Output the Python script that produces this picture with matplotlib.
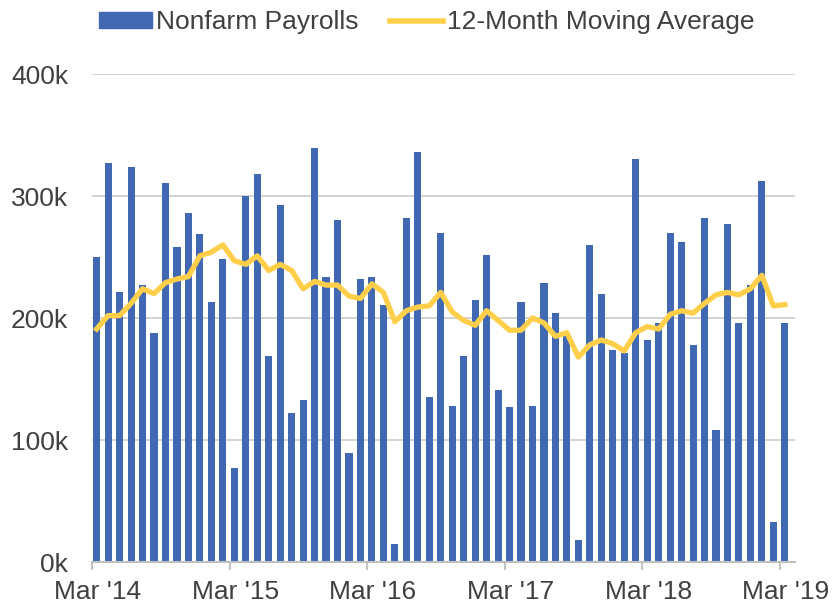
import matplotlib
matplotlib.use("Agg")
import matplotlib.pyplot as plt
from matplotlib.patches import Patch
from matplotlib.lines import Line2D
import numpy as np

plt.rcParams['font.family'] = ['Liberation Sans', 'DejaVu Sans']

# Monthly nonfarm payroll change, Mar 2014 - Mar 2019 (thousands)
payrolls = [250, 327, 221, 324, 227, 188, 311, 258, 286, 269, 213, 248,
            77, 300, 318, 169, 293, 122, 133, 339, 234, 280, 89, 232,
            234, 211, 15, 282, 336, 135, 270, 128, 169, 215, 252, 141,
            127, 213, 128, 229, 204, 187, 18, 260, 220, 174, 171, 330,
            182, 196, 270, 262, 178, 282, 108, 277, 196, 227, 312, 33,
            196]

moving_avg = [191, 202, 202, 212, 224, 220, 229, 232, 234, 251, 254, 260,
              247, 244, 251, 239, 244, 239, 224, 230, 227, 227, 218, 216,
              228, 221, 197, 206, 209, 210, 221, 205, 198, 194, 206, 198,
              190, 190, 200, 196, 185, 188, 168, 178, 182, 179, 173, 188,
              193, 191, 203, 206, 204, 212, 219, 221, 219, 224, 235, 210,
              211]

tick_labels = ["Mar '14", "Mar '15", "Mar '16", "Mar '17", "Mar '18", "Mar '19"]

blue = '#4169B3'
yellow = '#FFCF4A'
text_col = '#404040'

fig = plt.figure(figsize=(8.33, 6.07), dpi=100)
ax = fig.add_axes([0.1104, 0.0741, 0.844, 0.8039])

x = np.arange(len(payrolls)) + 0.41
ax.bar(x, np.array(payrolls) * 1000, width=0.62, color=blue, zorder=2)
ax.plot(x, np.array(moving_avg) * 1000, color=yellow, lw=3.8, zorder=3,
        solid_joinstyle='round')

ax.set_xlim(0, 61.3)
ax.set_ylim(0, 400000)
ax.set_yticks([0, 100000, 200000, 300000, 400000])
ax.set_yticklabels(['0k', '100k', '200k', '300k', '400k'])

# tick marks at the start of each March, labels centred on the month
ax.set_xticks(np.arange(0, 61, 12))
ax.set_xticklabels([])
ax.set_xticks(np.arange(0, 61, 12) + 0.5, minor=True)
ax.set_xticklabels(tick_labels, minor=True)

ax.grid(axis='y', color='#D0D0D0', lw=1.3, zorder=0)
for s in ['top', 'right', 'left']:
    ax.spines[s].set_visible(False)
ax.spines['bottom'].set_color('#BFBFBF')
ax.spines['bottom'].set_linewidth(1.5)
ax.spines['bottom'].set_zorder(4)
ax.tick_params(axis='x', which='major', colors='#C4C4C4', length=6, width=1.5)
ax.tick_params(axis='x', which='minor', length=0, labelcolor=text_col,
               labelsize=19, pad=13)
ax.tick_params(axis='y', length=0, labelcolor=text_col, labelsize=19, pad=17)

handles = [Patch(color=blue), Line2D([], [], color=yellow, lw=4)]
fig.legend(handles, ['Nonfarm Payrolls', '12-Month Moving Average'],
           loc='center', bbox_to_anchor=(0.5125, 0.963), ncol=2, frameon=False,
           fontsize=19, labelcolor=text_col, handlelength=2.0,
           handleheight=0.53, handletextpad=0.15, columnspacing=1.2)

fig.savefig('out.png', dpi=100)
